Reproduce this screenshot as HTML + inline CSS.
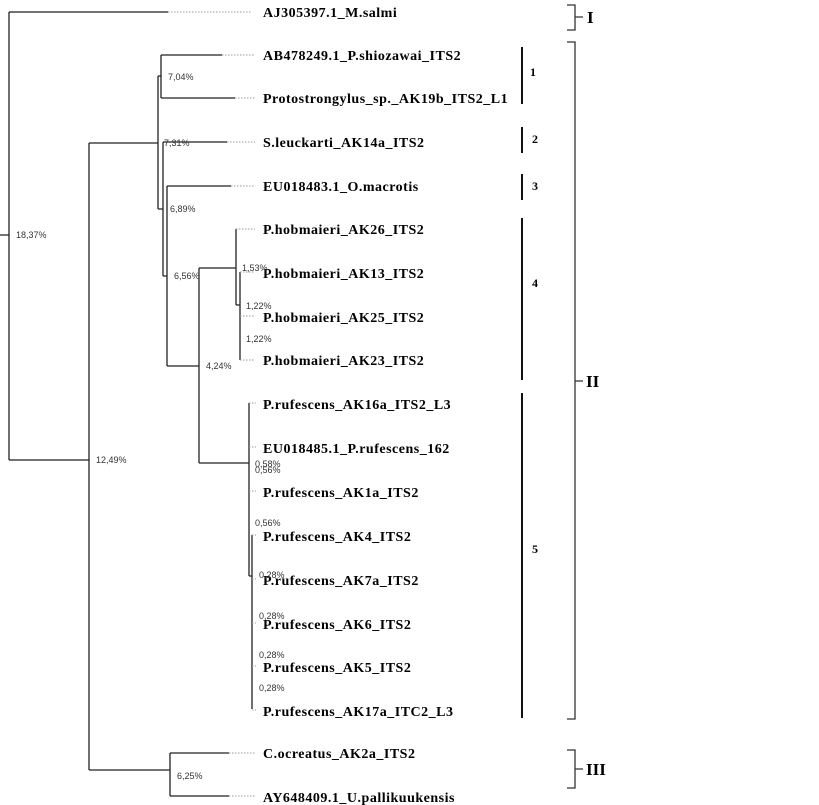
<!DOCTYPE html>
<html><head><meta charset="utf-8"><style>
html,body{margin:0;padding:0;background:#fff}
svg{display:block}
.l{font-family:"Liberation Serif",serif;font-weight:bold;font-size:14px;letter-spacing:0.5px;fill:#000}
.p{font-family:"Liberation Sans",sans-serif;font-size:9px;fill:#333}
.r{font-family:"Liberation Serif",serif;font-weight:bold;font-size:17px;fill:#000}
.n{font-family:"Liberation Serif",serif;font-weight:bold;font-size:12px;fill:#000}
</style></head><body>
<svg width="819" height="805" viewBox="0 0 819 805" xmlns="http://www.w3.org/2000/svg">
<g stroke="#222" stroke-width="1.3" fill="none">
<path d="M0 235H9M9 12V460M9 12H168M9 460H89M89 143V770M89 143H158M158 76V209M158 76H161M161 55V98M161 55H222M161 98H235M158 209H163M163 142V276M163 142H227M163 276H167M167 186V366M167 186H231M167 366H199M199 268V463M199 268H236M236 229V305M236 305H240M240 272V360M199 463H249M249 403V576M249 576H252M252 535V709M89 770H170M170 753V796M170 753H229M170 796H229"/>
</g>
<g stroke="#999" stroke-width="1" stroke-dasharray="1.5,1.5">
<path d="M168 12H252M222 55H255M235 98H255M227 142H255M231 186H255M236 229H255M240 272H255M240 316H255M240 360H255M249 403H256M249 447H256M249 491H256M252 535H256M252 579H256M252 623H256M252 666H256M252 710H256M229 753H255M229 796H255"/>
</g>
<g class="l">
<text x="263" y="17">AJ305397.1_M.salmi</text>
<text x="263" y="60">AB478249.1_P.shiozawai_ITS2</text>
<text x="263" y="103">Protostrongylus_sp._AK19b_ITS2_L1</text>
<text x="263" y="147">S.leuckarti_AK14a_ITS2</text>
<text x="263" y="191">EU018483.1_O.macrotis</text>
<text x="263" y="234">P.hobmaieri_AK26_ITS2</text>
<text x="263" y="278">P.hobmaieri_AK13_ITS2</text>
<text x="263" y="322">P.hobmaieri_AK25_ITS2</text>
<text x="263" y="365">P.hobmaieri_AK23_ITS2</text>
<text x="263" y="409">P.rufescens_AK16a_ITS2_L3</text>
<text x="263" y="453">EU018485.1_P.rufescens_162</text>
<text x="263" y="497">P.rufescens_AK1a_ITS2</text>
<text x="263" y="541">P.rufescens_AK4_ITS2</text>
<text x="263" y="585">P.rufescens_AK7a_ITS2</text>
<text x="263" y="629">P.rufescens_AK6_ITS2</text>
<text x="263" y="672">P.rufescens_AK5_ITS2</text>
<text x="263" y="716">P.rufescens_AK17a_ITC2_L3</text>
<text x="263" y="758">C.ocreatus_AK2a_ITS2</text>
<text x="263" y="802">AY648409.1_U.pallikuukensis</text>
</g>
<g class="p">
<text x="16" y="238">18,37%</text>
<text x="96" y="463">12,49%</text>
<text x="168" y="80">7,04%</text>
<text x="164" y="146">7,31%</text>
<text x="170" y="212">6,89%</text>
<text x="174" y="279">6,56%</text>
<text x="206" y="369">4,24%</text>
<text x="242" y="271">1,53%</text>
<text x="246" y="309">1,22%</text>
<text x="246" y="342">1,22%</text>
<text x="255" y="467">0,58%</text>
<text x="255" y="473">0,56%</text>
<text x="255" y="526">0,56%</text>
<text x="259" y="578">0,28%</text>
<text x="259" y="619">0,28%</text>
<text x="259" y="658">0,28%</text>
<text x="259" y="691">0,28%</text>
<text x="177" y="779">6,25%</text>
</g>
<g stroke="#111" stroke-width="2" fill="none">
<path d="M522 47V104M522 127V153M522 174V200M522 218V380M522 393V718"/>
</g>
<g stroke="#333" stroke-width="1.3" fill="none">
<path d="M567 5H575V30H567M575 17H583M567 42H575V719H567M575 381H583M567 750H575V788H567M575 769H583"/>
</g>
<g class="n">
<text x="530" y="76">1</text>
<text x="532" y="143">2</text>
<text x="532" y="190">3</text>
<text x="532" y="287">4</text>
<text x="532" y="553">5</text>
</g>
<g class="r">
<text x="587" y="23">I</text>
<text x="586" y="387">II</text>
<text x="586" y="775">III</text>
</g>
</svg>
</body></html>
